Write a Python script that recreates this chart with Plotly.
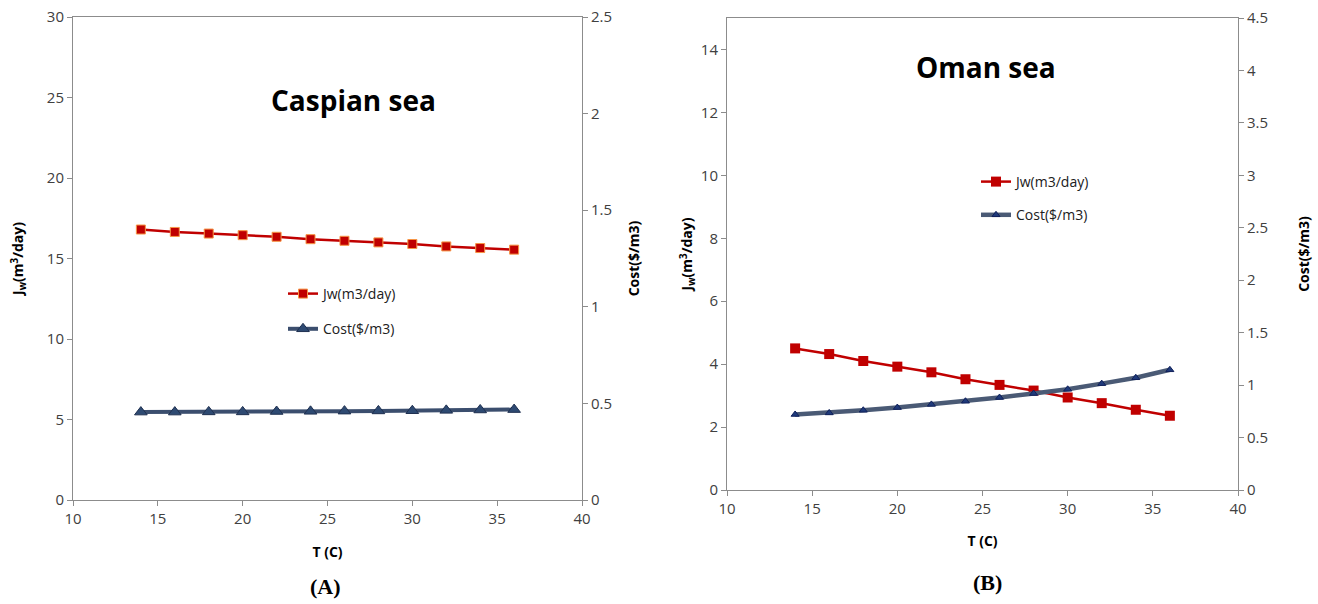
import plotly.graph_objects as go

T = [14, 16, 18, 20, 22, 24, 26, 28, 30, 32, 34, 36]
jw_caspian = [16.8, 16.65, 16.55, 16.45, 16.35, 16.2, 16.1, 16.0, 15.9, 15.75, 15.65, 15.55]
cost_caspian = [0.455, 0.455, 0.456, 0.456, 0.458, 0.459, 0.46, 0.461, 0.462, 0.464, 0.466, 0.468]
jw_oman = [4.5, 4.32, 4.1, 3.92, 3.74, 3.52, 3.34, 3.16, 2.94, 2.76, 2.55, 2.36]
cost_oman = [0.72, 0.735, 0.76, 0.786, 0.816, 0.846, 0.882, 0.92, 0.96, 1.014, 1.07, 1.146]

FONT = "Open Sans, Noto Sans, sans-serif"
RED = "#C00000"
TICKC = "#404040"
AXC = "#8C8C8C"

fig = go.Figure()

# Left panel
fig.add_trace(go.Scatter(x=T, y=jw_caspian, name="Jw(m3/day)", xaxis="x", yaxis="y",
                         mode="lines+markers", line=dict(color=RED, width=2.5),
                         marker=dict(symbol="square", size=9, color=RED, line=dict(color="#F79646", width=1)),
                         legend="legend", legendgroup="a1"))
fig.add_trace(go.Scatter(x=T, y=cost_caspian, name="Cost($/m3)", xaxis="x", yaxis="y2",
                         mode="lines+markers", line=dict(color="#3B4E6E", width=4),
                         marker=dict(symbol="triangle-up", size=11, color="#2E4A72", line=dict(color="#1F3050", width=1)),
                         legend="legend", legendgroup="a2"))
# Right panel
fig.add_trace(go.Scatter(x=T, y=jw_oman, name="Jw(m3/day)", xaxis="x2", yaxis="y3",
                         mode="lines+markers", line=dict(color=RED, width=2.5),
                         marker=dict(symbol="square", size=10, color=RED, line=dict(color=RED, width=0)),
                         legend="legend2", legendgroup="b1"))
fig.add_trace(go.Scatter(x=T, y=cost_oman, name="Cost($/m3)", xaxis="x2", yaxis="y4",
                         mode="lines+markers", line=dict(color="#4A5A75", width=4.5),
                         marker=dict(symbol="triangle-up", size=7, color="#1F3A7A", line=dict(color="#10205A", width=1)),
                         legend="legend2", legendgroup="b2"))

tickfont = dict(family=FONT, size=15, color=TICKC)
titlefont = dict(family=FONT, size=14, color="#000000")

def xax(domain, anchor, standoff):
    return dict(domain=domain, anchor=anchor, range=[10, 40], tickvals=[10, 15, 20, 25, 30, 35, 40],
                showgrid=False, zeroline=False, showline=True, linecolor=AXC, linewidth=1,
                mirror=True, ticks="outside", ticklen=5, tickcolor=AXC, tickfont=tickfont,
                automargin=False,
                title=dict(text="<b>T (C)</b>", font=titlefont, standoff=standoff))

def yax(domain, anchor, rng, dtick, title, side="left", overlay=None, standoff=12):
    d = dict(domain=domain, anchor=anchor, range=rng, dtick=dtick, tick0=0, showgrid=False, zeroline=False,
             showline=True, linecolor=AXC, linewidth=1, ticks="outside", ticklen=5, tickcolor=AXC,
             tickfont=tickfont, side=side, automargin=False,
             title=dict(text=title, font=titlefont, standoff=standoff))
    if overlay:
        d["overlaying"] = overlay
    return d

ydomL = [1 - 500 / 604, 1 - 17 / 604]
ydomR = [1 - 490 / 604, 1 - 18 / 604]

fig.update_layout(
    width=1318, height=604, margin=dict(l=0, r=0, t=0, b=0),
    paper_bgcolor="white", plot_bgcolor="white",
    xaxis=xax([73 / 1318, 582 / 1318], "y", 20),
    yaxis=yax(ydomL, "x", [0, 30], 5, "<b>J<sub>w</sub>(m<sup>3</sup>/day)</b>", standoff=19),
    yaxis2=yax(ydomL, "x", [0, 2.5], 0.5, "<b>Cost($/m3)</b>", side="right", overlay="y", standoff=18),
    xaxis2=xax([727 / 1318, 1238 / 1318], "y3", 19),
    yaxis3=yax(ydomR, "x2", [0, 15], 2, "<b>J<sub>w</sub>(m<sup>3</sup>/day)</b>", standoff=4),
    yaxis4=yax(ydomR, "x2", [0, 4.5], 0.5, "<b>Cost($/m3)</b>", side="right", overlay="y3", standoff=32),
    legend=dict(x=283 / 1318, y=1 - 278 / 604, xanchor="left", yanchor="top", bgcolor="rgba(0,0,0,0)",
                font=dict(family=FONT, size=14, color="#202020"), tracegroupgap=14, itemwidth=30),
    legend2=dict(x=976 / 1318, y=1 - 166 / 604, xanchor="left", yanchor="top", bgcolor="rgba(0,0,0,0)",
                 font=dict(family=FONT, size=14, color="#202020"), tracegroupgap=12, itemwidth=30),
    showlegend=True,
    annotations=[
        dict(text="<b>Caspian sea</b>", x=353 / 1318, y=1 - 100 / 604, xref="paper", yref="paper",
             xanchor="center", yanchor="middle",
             showarrow=False, font=dict(family=FONT, size=28, color="black")),
        dict(text="<b>Oman sea</b>", x=986 / 1318, y=1 - 67 / 604, xref="paper", yref="paper",
             xanchor="center", yanchor="middle",
             showarrow=False, font=dict(family=FONT, size=28, color="black")),
        dict(text="<b>(A)</b>", x=325 / 1318, y=1 - 586 / 604, xref="paper", yref="paper",
             xanchor="center", yanchor="middle",
             showarrow=False, font=dict(family="Liberation Serif, serif", size=22, color="black")),
        dict(text="<b>(B)</b>", x=988 / 1318, y=1 - 582 / 604, xref="paper", yref="paper",
             xanchor="center", yanchor="middle",
             showarrow=False, font=dict(family="Liberation Serif, serif", size=22, color="black")),
    ],
)

fig.write_html("out.html")
